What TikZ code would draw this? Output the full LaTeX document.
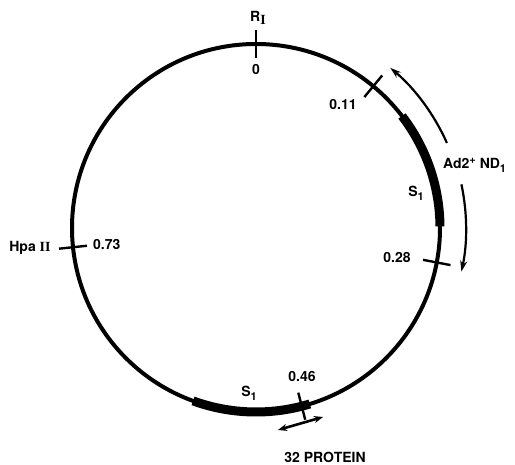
\documentclass[tikz,border=0pt]{standalone}
\usepackage{fontspec}
\setmainfont{TeX Gyre Heros}
\newfontfamily\romfont{Liberation Serif}
\usetikzlibrary{arrows.meta}
\begin{document}
\begin{tikzpicture}[x=1pt,y=1pt,
  lbl/.style={font=\fontsize{14}{16}\selectfont\bfseries, inner sep=0pt},
  ring/.style={line width=4pt},
  thickseg/.style={line width=9pt},
  tick/.style={line width=2.4pt},
  dirarrow/.style={line width=2.2pt, -{Stealth[length=11pt,width=7pt]}},
  dblarrow/.style={line width=2.6pt, {Stealth[length=9pt,width=7pt]}-{Stealth[length=9pt,width=7pt]}}]
\useasboundingbox (0,0) rectangle (515,465);
\coordinate (C) at (256,237);
\def\R{184}
% main circle
\draw[ring] (C) circle (\R);
% thick S1 segments
\draw[thickseg] ([shift={(37.5:\R)}]C) arc (37.5:0.5:\R);
\draw[thickseg] ([shift={(-110:\R)}]C) arc (-110:-73:\R);
% ticks
\foreach \n/\a in {t0/90, t11/50.4, t28/-10.8, t46/-75.6, t73/-174}{
  \coordinate (\n a) at ([shift={(\a:\R-14)}]C);
  \coordinate (\n b) at ([shift={(\a:\R+14)}]C);
  \draw[tick] (\n a) -- (\n b);
}
% direction arrows
\coordinate (u1) at ([shift={(24:209)}]C);
\coordinate (l1) at ([shift={(12:210)}]C);
\draw[dirarrow] (u1) arc (24:50:209);
\draw[dirarrow] (l1) arc (12:-12:210);
\coordinate (p1) at (278,35);
\coordinate (p2) at (323,48);
\draw[dblarrow] (p1) -- (p2);
% labels
\node[lbl] (RI) at (258,447) {R\raisebox{-3pt}{\romfont\bfseries I}};
\node[lbl] (z0) at (256,395) {0};
\node[lbl] (l11) at (343,360) {0.11};
\node[lbl, anchor=west] (ad) at (443,300) {Ad2\raisebox{5pt}{\fontsize{11}{11}\selectfont +} ND\raisebox{-4pt}{\fontsize{11}{11}\selectfont 1}};
\node[lbl] (s1a) at (416,272) {S\raisebox{-4pt}{\fontsize{11}{11}\selectfont 1}};
\node[lbl] (l28) at (397,207) {0.28};
\node[lbl] (hpa) at (30,217) {Hpa {\romfont\bfseries II}};
\node[lbl, anchor=west] (l73) at (93,220) {0.73};
\node[lbl] (s1b) at (249,72) {S\raisebox{-4pt}{\fontsize{11}{11}\selectfont 1}};
\node[lbl] (l46) at (302,88) {0.46};
\node[lbl] (prot) at (325,8) {32 PROTEIN};
\end{tikzpicture}
\end{document}
